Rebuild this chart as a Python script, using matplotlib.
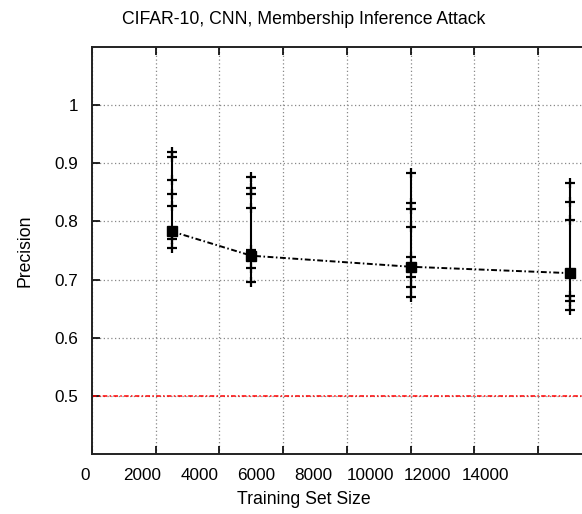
import numpy as np
import matplotlib.pyplot as plt
from matplotlib.transforms import ScaledTranslation

# Training set sizes and mean precision per size
train_sizes = [2500, 5000, 10000, 15000]
mean_precision = [0.783, 0.741, 0.722, 0.711]

# Precision of the individual runs per training set size
run_precision = [
    [0.920, 0.911, 0.872, 0.848, 0.826, 0.777, 0.769, 0.755],
    [0.877, 0.858, 0.848, 0.823, 0.751, 0.719, 0.695],
    [0.883, 0.832, 0.822, 0.790, 0.739, 0.705, 0.687, 0.670],
    [0.867, 0.834, 0.802, 0.671, 0.663, 0.647],
]

baseline = 0.5
x_ticks = [0, 2000, 4000, 6000, 8000, 10000, 12000, 14000, 16000]
x_tick_labels = ['0', '2000', '4000', '6000', '8000', '10000', '12000', '14000', '']
y_ticks = [0.5, 0.6, 0.7, 0.8, 0.9, 1.0]
y_tick_labels = ['0.5', '0.6', '0.7', '0.8', '0.9', '1']

plt.rcParams['font.family'] = ['Liberation Sans', 'DejaVu Sans']

fig = plt.figure(figsize=(5.82, 5.14), dpi=100)
# axes runs past the right edge on purpose (cropped like the original)
ax = fig.add_axes([92 / 582, 1 - 453.7 / 514, 510 / 582, 406.4 / 514])

# Random guess line
ax.axhline(baseline, color='red', linestyle=(0, (3, 1.5, 1, 1.5)), linewidth=1.1, zorder=2)

# Vertical ranges and individual runs
for x, runs in zip(train_sizes, run_precision):
    ax.plot([x, x], [min(runs), max(runs)], color='black', linewidth=1.5, zorder=3)
    ax.plot([x] * len(runs), runs, linestyle='none', marker='+', markersize=6.5,
            markeredgewidth=1.6, color='black', zorder=4)

# Mean line
ax.plot(train_sizes, mean_precision, color='black', linestyle=(0, (3, 1.3, 0.8, 1.3)),
        linewidth=1.4, marker='s', markersize=6.5, zorder=5)

ax.set_xlim(0, 16000)
ax.set_ylim(0.4, 1.1)
ax.set_xticks(x_ticks)
ax.set_xticklabels(x_tick_labels)
ax.set_yticks(y_ticks)
ax.set_yticklabels(y_tick_labels)
ax.tick_params(direction='in', length=6, width=1.2, labelsize=12.3, top=True, right=True)
ax.tick_params(axis='y', pad=10)
ax.tick_params(axis='x', pad=10)
ax.grid(True, linestyle=(0, (1, 2)), color='#888888', linewidth=0.9)

# the original's x labels sit on a slightly tighter spacing than its ticks
for i, tick in enumerate(ax.xaxis.get_major_ticks()):
    dx = -7 - 6.6 * i
    lab = tick.label1
    lab.set_transform(lab.get_transform() + ScaledTranslation(dx / 100, 0, fig.dpi_scale_trans))

for s in ax.spines.values():
    s.set_linewidth(1.4)
    s.set_color('#222222')

fig.text(304 / 582, 1 - 20 / 514, 'CIFAR-10, CNN, Membership Inference Attack',
         ha='center', va='center', fontsize=12.7)
fig.text(304 / 582, 1 - 500 / 514, 'Training Set Size', ha='center', va='center', fontsize=12.7)
fig.text(25 / 582, 1 - 251 / 514, 'Precision', ha='center', va='center', rotation=90, fontsize=12.7)

fig.savefig('out.png', dpi=100)
